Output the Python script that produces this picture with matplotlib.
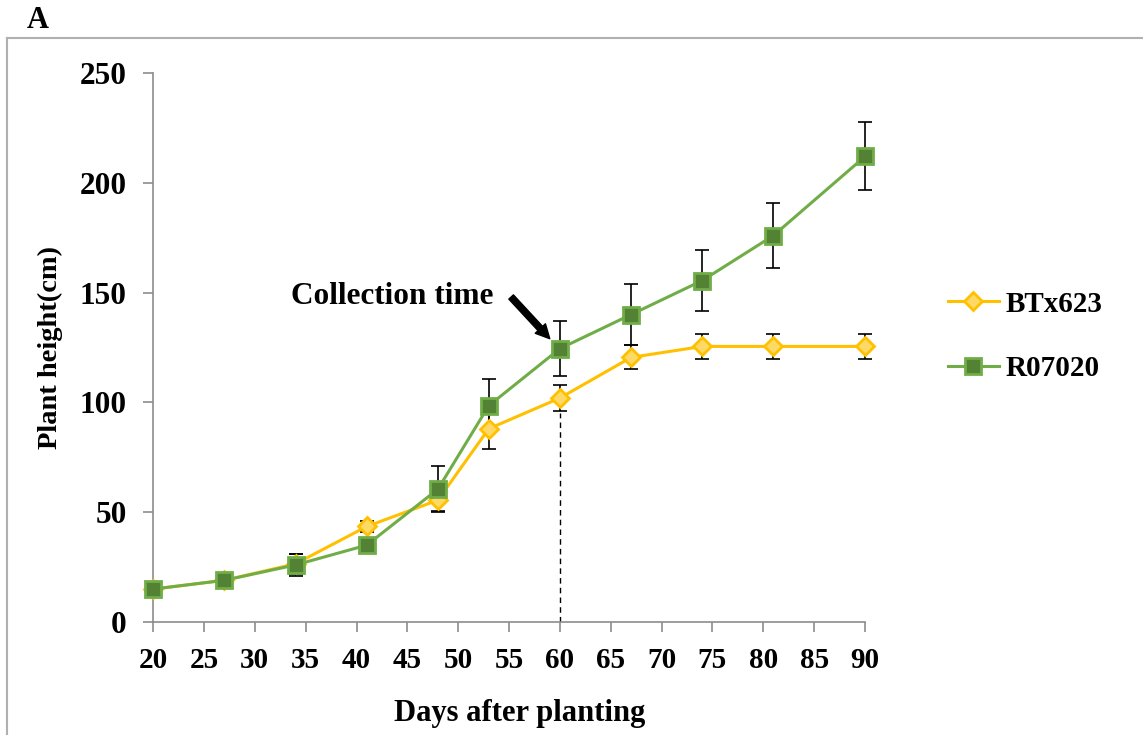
import numpy as np
import matplotlib.pyplot as plt
from matplotlib.lines import Line2D

plt.rcParams['font.family'] = ['Liberation Serif', 'DejaVu Serif']
plt.rcParams['font.weight'] = 'bold'

days = [20, 27, 34, 41, 48, 53, 60, 67, 74, 81, 90]
btx623 = [15, 19, 26.5, 43.5, 55.5, 88, 102, 120.5, 125.5, 125.5, 125.5]
btx623_err = [1, 1, 4.5, 2.5, 5, 9, 6, 5.5, 5.7, 5.7, 5.7]
r07020 = [15, 19, 26, 35, 60.5, 98.5, 124.5, 140, 155.5, 176, 212]
r07020_err = [1, 1, 5, 1.5, 10.5, 12, 12.5, 14, 14, 15, 15.5]

AXIS_GREY = "#8c8c8c"

fig = plt.figure(figsize=(11.43, 7.35), dpi=100)
ax = fig.add_axes([0.134, 0.1537, 0.6228, 0.747])

for vals, errs in [(btx623, btx623_err), (r07020, r07020_err)]:
    eb = ax.errorbar(days, vals, yerr=errs, fmt="none", ecolor="black",
                     elinewidth=1.2, capsize=5, capthick=1.2, zorder=2)
    for art in eb.lines[1] + eb.lines[2]:
        art.set_clip_on(False)

ax.plot(days, btx623, color="#FFC000", lw=2.2, marker="D", markersize=9,
        markerfacecolor="#FFD966", markeredgecolor="#FFC000", markeredgewidth=2,
        zorder=3, label="BTx623", clip_on=False)
ax.plot(days, r07020, color="#70AD47", lw=2.2, marker="s", markersize=12,
        markerfacecolor="#548235", markeredgecolor="#70AD47", markeredgewidth=2,
        zorder=4, label="R07020", clip_on=False)

# collection time marker
ax.plot([60, 60], [0, 95], color="black", lw=1, ls=(0, (4, 3)), zorder=1)
ax.annotate("", xy=(59.0, 129.0), xytext=(55.2, 148.0),
            arrowprops=dict(arrowstyle="simple,head_length=1.0,head_width=1.0,tail_width=0.45",
                            color="black", shrinkA=0, shrinkB=0))
ax.text(33.6, 148, "Collection time", fontsize=22.5, fontweight="bold", va="center", ha="left")

ax.set_xlim(20, 90)
ax.set_ylim(0, 250)
ax.set_xticks(np.arange(20, 91, 5))
ax.set_yticks(np.arange(0, 251, 50))
ax.tick_params(axis="both", direction="out", color=AXIS_GREY, length=7, width=1.2)
ax.tick_params(axis="x", pad=11, labelsize=21)
ax.tick_params(axis="y", pad=12, labelsize=22.5)
for lab in ax.get_xticklabels() + ax.get_yticklabels():
    lab.set_fontweight("bold")
for side in ["top", "right"]:
    ax.spines[side].set_visible(False)
for side in ["left", "bottom"]:
    ax.spines[side].set_color(AXIS_GREY)
    ax.spines[side].set_linewidth(1.2)

ax.set_xlabel("Days after planting", fontsize=22, fontweight="bold", labelpad=18)
ax.xaxis.label.set_x(0.515)
ax.set_ylabel("Plant height(cm)", fontsize=20.5, fontweight="bold", labelpad=12)

ax.legend(loc="center left", bbox_to_anchor=(1.079, 0.52), frameon=False,
          prop={"weight": "bold", "size": 21}, handlelength=1.75,
          labelspacing=1.3, handletextpad=0.25)

# panel frame and label
fig.add_artist(Line2D([0.0065, 1.0], [0.948, 0.948], color="#b0b0b0", lw=1.5))
fig.add_artist(Line2D([0.0065, 0.0065], [0.0, 0.948], color="#b0b0b0", lw=1.5))
fig.text(0.023, 0.972, "A", fontsize=22, fontweight="bold", va="center")

fig.savefig("out.png", dpi=100)
